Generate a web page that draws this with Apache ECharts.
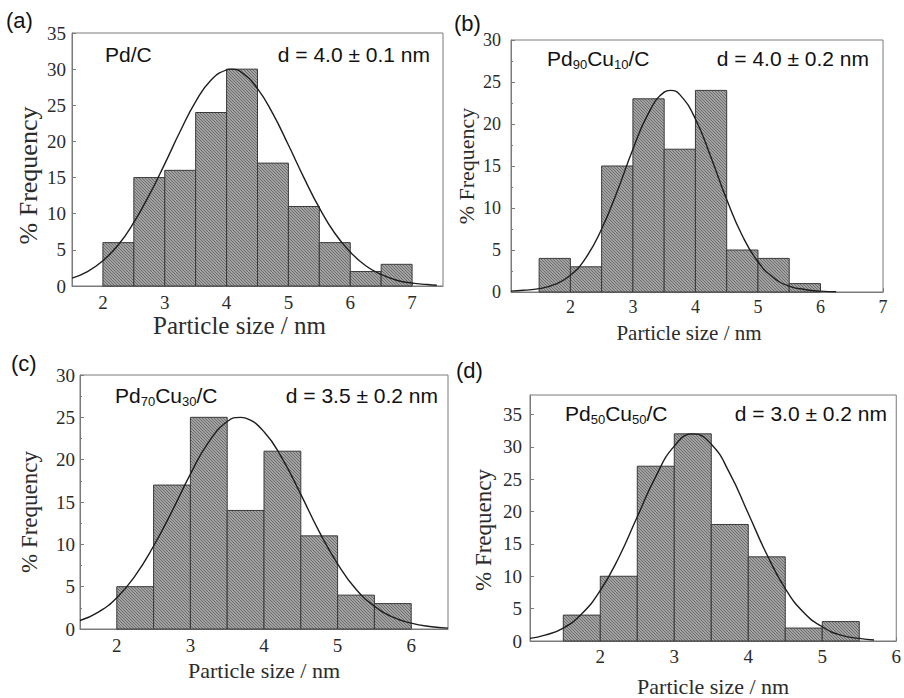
<!DOCTYPE html>
<html>
<head>
<meta charset="utf-8">
<title>Particle size distribution</title>
<script src="https://cdn.jsdelivr.net/npm/echarts@6/dist/echarts.min.js"></script>
<style>
  html, body { margin: 0; padding: 0; background: #fff; }
  #main { width: 904px; height: 698px; }
</style>
</head>
<body>
<div id="main"></div>
<script>
// histogram bins: lower edge of each 0.5 nm bin and its % frequency
var binWidth = 0.5;
var binsA = [2, 2.5, 3, 3.5, 4, 4.5, 5, 5.5, 6, 6.5];
var freqA = [6, 15, 16, 24, 30, 17, 11, 6, 2, 3];
var binsB = [1.5, 2, 2.5, 3, 3.5, 4, 4.5, 5, 5.5];
var freqB = [4, 3, 15, 23, 17, 24, 5, 4, 1];
var binsC = [2, 2.5, 3, 3.5, 4, 4.5, 5, 5.5];
var freqC = [5, 17, 25, 14, 21, 11, 4, 3];
var binsD = [1.5, 2, 2.5, 3, 3.5, 4, 4.5, 5];
var freqD = [4, 10, 27, 32, 18, 13, 2, 3];

// fitted curves, points
var fitXA = [1.5, 1.75, 2, 2.25, 2.5, 2.75, 3, 3.25, 3.5, 3.75, 4, 4.07, 4.25, 4.5, 4.75, 5, 5.25, 5.5, 5.75, 6, 6.25, 6.5, 6.75, 7, 7.25, 7.4];
var fitYA = [1.1, 2.0, 3.5, 5.7, 8.8, 12.6, 16.9, 21.4, 25.5, 28.5, 29.9, 30, 29.5, 27.3, 23.8, 19.5, 15.0, 10.8, 7.3, 4.7, 2.8, 1.6, 0.8, 0.4, 0.2, 0.1];
var fitXB = [1.05, 1.25, 1.5, 1.75, 2, 2.25, 2.5, 2.75, 3, 3.25, 3.5, 3.6, 3.75, 4, 4.25, 4.5, 4.75, 5, 5.25, 5.5, 5.75, 6, 6.25];
var fitYB = [0.1, 0.2, 0.4, 0.9, 2.0, 4.1, 7.5, 12.0, 17.0, 21.3, 23.8, 24, 23.5, 20.6, 16.0, 11.0, 6.7, 3.6, 1.7, 0.7, 0.3, 0.1, 0.03];
var fitXC = [1.5, 1.75, 2, 2.25, 2.5, 2.75, 3, 3.25, 3.5, 3.68, 3.75, 4, 4.25, 4.5, 4.75, 5, 5.25, 5.5, 5.75, 6, 6.25, 6.5];
var fitYC = [1.0, 2.0, 3.7, 6.3, 9.8, 13.9, 18.3, 22.1, 24.5, 25, 24.9, 23.3, 20.1, 15.9, 11.5, 7.7, 4.7, 2.7, 1.4, 0.7, 0.3, 0.1];
var fitXD = [1.05, 1.25, 1.5, 1.75, 2, 2.25, 2.5, 2.75, 3, 3.25, 3.5, 3.75, 4, 4.25, 4.5, 4.75, 5, 5.25, 5.5, 5.7];
var fitYD = [0.4, 0.9, 2.0, 4.2, 7.8, 12.9, 19.2, 25.4, 30.1, 32.0, 30.4, 25.9, 19.7, 13.4, 8.1, 4.4, 2.2, 0.9, 0.4, 0.15];

// tick labels
var xTicksA = [2, 3, 4, 5, 6, 7];
var xTicksB = [2, 3, 4, 5, 6, 7];
var xTicksC = [2, 3, 4, 5, 6];
var xTicksD = [2, 3, 4, 5, 6];
var yTicksA = [0, 5, 10, 15, 20, 25, 30, 35];
var yTicksB = [0, 5, 10, 15, 20, 25, 30];
var yTicksC = [0, 5, 10, 15, 20, 25, 30];
var yTicksD = [0, 5, 10, 15, 20, 25, 30, 35];

// panel texts
var panelTags = ['(a)', '(b)', '(c)', '(d)'];
var sampleNames = ['{m|Pd/C}', '{m|Pd}{s|90}{m|Cu}{s|10}{m|/C}', '{m|Pd}{s|70}{m|Cu}{s|30}{m|/C}', '{m|Pd}{s|50}{m|Cu}{s|50}{m|/C}'];
var sizeTexts = ['d = 4.0 \u00b1 0.1 nm', 'd = 4.0 \u00b1 0.2 nm', 'd = 3.5 \u00b1 0.2 nm', 'd = 3.0 \u00b1 0.2 nm'];

var serif = 'Liberation Serif';
var sans = 'Liberation Sans';
var axisGray = '#7a7a7a';
var textColor = '#2b2b2b';

// layout of each panel (xShift / yShift move the axis titles off centre like the original)
var panels = [
  {grid: {left: 72, top: 33, width: 371, height: 253}, xMin: 1.5, xMax: 7.5, yMax: 35,
   bins: binsA, freq: freqA, fitX: fitXA, fitY: fitYA, xTicks: xTicksA, yTicks: yTicksA,
   tickSize: 19, nameSize: 25, xNameGap: 19, yNameGap: 31, xLabelMargin: 7, yLabelMargin: 6,
   xShift: 36, yShift: 32, tag: [6, 21], name: [105, 54], size: [430, 54]},
  {grid: {left: 511, top: 40, width: 372, height: 252}, xMin: 1.05, xMax: 7, yMax: 30,
   bins: binsB, freq: freqB, fitX: fitXB, fitY: fitYB, xTicks: xTicksB, yTicks: yTicksB,
   tickSize: 18, nameSize: 21, xNameGap: 30, yNameGap: 34, xLabelMargin: 6, yLabelMargin: 10,
   xShift: 16, yShift: 0, tag: [454, 24], name: [547, 58], size: [869, 58]},
  {grid: {left: 80, top: 375, width: 368, height: 254}, xMin: 1.5, xMax: 6.5, yMax: 30,
   bins: binsC, freq: freqC, fitX: fitXC, fitY: fitYC, xTicks: xTicksC, yTicks: yTicksC,
   tickSize: 19, nameSize: 22, xNameGap: 30, yNameGap: 39, xLabelMargin: 7, yLabelMargin: 5,
   xShift: 0, yShift: 20, tag: [11, 364], name: [115, 395], size: [438, 395]},
  {grid: {left: 530, top: 395, width: 370, height: 252}, xMin: 1.05, xMax: 6, yMax: 38,
   bins: binsD, freq: freqD, fitX: fitXD, fitY: fitYD, xTicks: xTicksD, yTicks: yTicksD,
   tickSize: 19, nameSize: 22, xNameGap: 34, yNameGap: 35, xLabelMargin: 6, yLabelMargin: 8,
   xShift: 0, yShift: 24, tag: [456, 371], name: [565, 413], size: [887, 413]}
];

// fine diagonal hatch like the scanned bars
function hatchPattern() {
  var c = document.createElement('canvas');
  c.width = 3; c.height = 3;
  var g = c.getContext('2d');
  g.fillStyle = '#a2a2a2';
  g.fillRect(0, 0, 3, 3);
  g.fillStyle = '#6e6e6e';
  for (var k = 0; k < 3; k++) g.fillRect(k, k, 1, 1);
  return {image: c, repeat: 'repeat'};
}
var barFill = hatchPattern();

function histItem(params, api) {
  var p0 = api.coord([api.value(0), 0]);
  var p1 = api.coord([api.value(1), api.value(2)]);
  return {
    type: 'rect',
    shape: {x: p0[0], y: p1[1], width: p1[0] - p0[0], height: p0[1] - p1[1]},
    style: {fill: barFill, stroke: '#3a3a3a', lineWidth: 1}
  };
}

var grids = [], xAxes = [], yAxes = [], series = [], texts = [];

panels.forEach(function (p, i) {
  grids.push(Object.assign({show: true, borderColor: axisGray, borderWidth: 1, containLabel: false}, p.grid));

  xAxes.push({
    type: 'value', gridIndex: i, min: p.xMin, max: p.xMax,
    name: 'Particle size / nm', nameLocation: 'middle', nameGap: p.xNameGap,
    nameTextStyle: {fontFamily: serif, fontSize: p.nameSize, color: textColor, padding: [0, p.xShift, 0, 0]},
    axisLine: {show: true, lineStyle: {color: axisGray}},
    axisTick: {show: true, inside: true, length: 4, customValues: p.xTicks, lineStyle: {color: axisGray}},
    axisLabel: {customValues: p.xTicks, margin: p.xLabelMargin, fontFamily: serif, fontSize: p.tickSize, color: textColor},
    splitLine: {show: false}
  });

  yAxes.push({
    type: 'value', gridIndex: i, min: 0, max: p.yMax,
    name: '% Frequency', nameLocation: 'middle', nameGap: p.yNameGap,
    nameTextStyle: {fontFamily: serif, fontSize: p.nameSize + 1, color: textColor, padding: [0, p.yShift, 0, 0]},
    axisLine: {show: true, lineStyle: {color: axisGray}},
    axisTick: {show: true, inside: true, length: 4, customValues: p.yTicks, lineStyle: {color: axisGray}},
    minorTick: {show: true, splitNumber: 2, length: 2, lineStyle: {color: axisGray}},
    axisLabel: {customValues: p.yTicks, margin: p.yLabelMargin, fontFamily: serif, fontSize: p.tickSize, color: textColor},
    splitLine: {show: false}
  });

  series.push({
    type: 'custom', xAxisIndex: i, yAxisIndex: i,
    renderItem: histItem,
    encode: {x: [0, 1], y: 2},
    data: p.bins.map(function (b, j) { return [b, b + binWidth, p.freq[j]]; }),
    z: 2
  });

  series.push({
    type: 'line', xAxisIndex: i, yAxisIndex: i,
    smooth: true, showSymbol: false, silent: true,
    lineStyle: {color: '#1e1e1e', width: 1.4},
    data: p.fitX.map(function (x, j) { return [x, p.fitY[j]]; }),
    z: 3
  });

  texts.push({
    type: 'text', left: p.tag[0], top: p.tag[1] - 12,
    style: {text: panelTags[i], font: '22px ' + sans, fill: '#111'}
  });
  texts.push({
    type: 'text', x: p.name[0], y: p.name[1],
    style: {
      text: sampleNames[i], fill: '#111', textVerticalAlign: 'middle',
      rich: {
        m: {fontFamily: sans, fontSize: 21, fill: '#111'},
        s: {fontFamily: sans, fontSize: 13, fill: '#111', padding: [13, 0, 0, 0]}
      }
    }
  });
  texts.push({
    type: 'text', x: p.size[0], y: p.size[1],
    style: {text: sizeTexts[i], font: '21px ' + sans, fill: '#111', textAlign: 'right', textVerticalAlign: 'middle'}
  });
});

var myChart = echarts.init(document.getElementById('main'), null, {renderer: 'svg'});
myChart.setOption({
  backgroundColor: '#fff',
  animation: false,
  grid: grids,
  xAxis: xAxes,
  yAxis: yAxes,
  series: series,
  graphic: texts
});
</script>
</body>
</html>
